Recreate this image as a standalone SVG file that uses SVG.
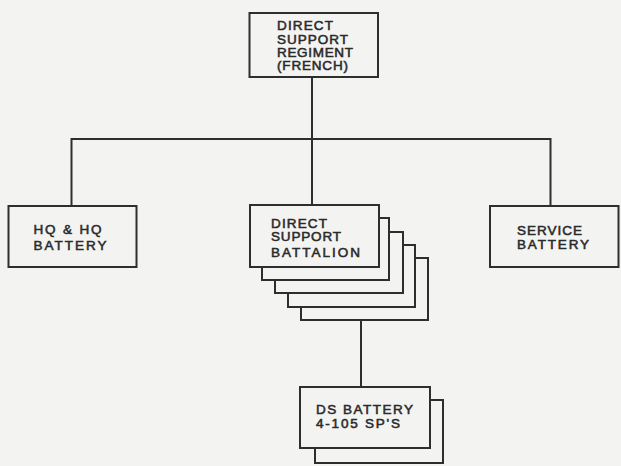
<svg xmlns="http://www.w3.org/2000/svg" width="621" height="466" viewBox="0 0 621 466">
<style>
.bx{fill:#f3f3f1;stroke:#2e2e2e;stroke-width:2}
.ln{fill:none;stroke:#2e2e2e;stroke-width:2}
.t{font-family:"Liberation Sans",Arial,sans-serif;font-size:13.5px;fill:#2a2a2a;stroke:#2a2a2a;stroke-width:0.55}
</style>
<rect x="0" y="0" width="621" height="466" fill="#f3f3f1"/>
<g id="connectors">
<path class="ln" d="M312 77 V139 M71.5 206 V139 H550.5 V206 M312 139 V205 M361 320 V387"/>
</g>
<g id="regiment">
<rect class="bx" x="249.5" y="13" width="128.5" height="64"/>
<text class="t" x="277" y="29.5" textLength="56" lengthAdjust="spacing">DIRECT</text>
<text class="t" x="277" y="43.5" textLength="71" lengthAdjust="spacing">SUPPORT</text>
<text class="t" x="277" y="56.5" textLength="76" lengthAdjust="spacing">REGIMENT</text>
<text class="t" x="277" y="70" textLength="71" lengthAdjust="spacing">(FRENCH)</text>
</g>
<g id="hq">
<rect class="bx" x="8.5" y="206" width="128" height="61"/>
<text class="t" x="33.5" y="233.5" textLength="68" lengthAdjust="spacing">HQ &amp; HQ</text>
<text class="t" x="33.5" y="249.5" textLength="73" lengthAdjust="spacing">BATTERY</text>
</g>
<g id="service">
<rect class="bx" x="490" y="206" width="128.5" height="61"/>
<text class="t" x="517" y="234.5" textLength="65" lengthAdjust="spacing">SERVICE</text>
<text class="t" x="517" y="248.5" textLength="72" lengthAdjust="spacing">BATTERY</text>
</g>
<g id="battalion">
<rect class="bx" x="301" y="258" width="127" height="62"/>
<rect class="bx" x="288" y="245" width="127" height="62"/>
<rect class="bx" x="275" y="232" width="128" height="61"/>
<rect class="bx" x="262" y="218" width="127" height="62"/>
<rect class="bx" x="250" y="205" width="129" height="62"/>
<text class="t" x="271" y="227.5" textLength="56" lengthAdjust="spacing">DIRECT</text>
<text class="t" x="271" y="240.5" textLength="70" lengthAdjust="spacing">SUPPORT</text>
<text class="t" x="271" y="256.5" textLength="89" lengthAdjust="spacing">BATTALION</text>
</g>
<g id="ds-battery">
<rect class="bx" x="315" y="400" width="128" height="63"/>
<rect class="bx" x="300" y="387" width="130" height="61"/>
<text class="t" x="316" y="414" textLength="97" lengthAdjust="spacing">DS BATTERY</text>
<text class="t" x="316" y="428" textLength="84" lengthAdjust="spacing">4-105 SP'S</text>
</g>
</svg>
